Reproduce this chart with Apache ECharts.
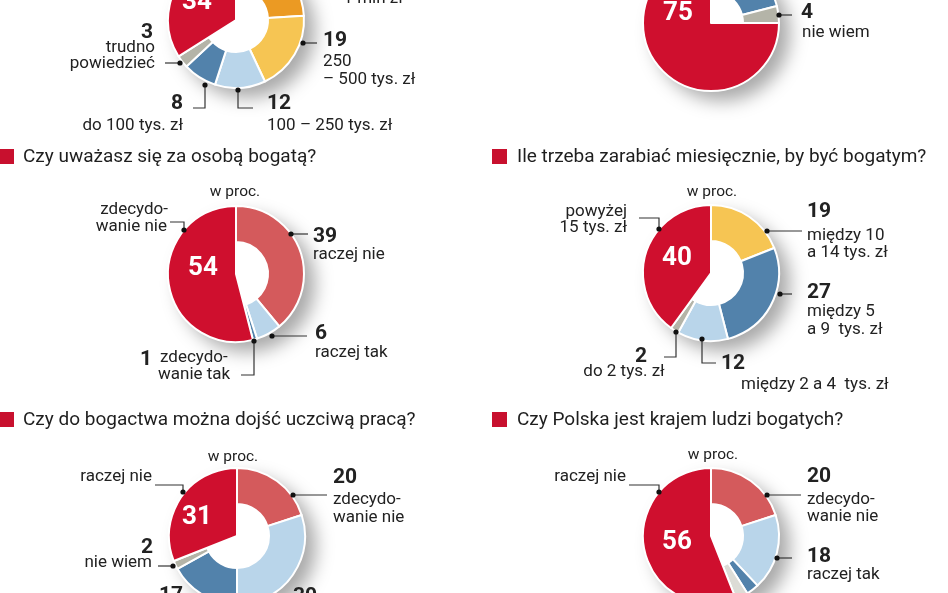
<!DOCTYPE html>
<html>
<head>
<meta charset="utf-8">
<script src="https://cdn.jsdelivr.net/npm/echarts@6/dist/echarts.min.js"></script>
<style>
html,body{margin:0;padding:0;background:#fff;}
#chart{width:948px;height:593px;}
</style>
</head>
<body>
<div id="chart"></div>
<script>
// ---------- DATA ----------
const wealthCategories = ['500 tys. – 1 mln zł', '250 – 500 tys. zł', '100 – 250 tys. zł', 'do 100 tys. zł', 'trudno powiedzieć', 'powyżej 1 mln zł'];
const wealthValues = [24, 19, 12, 8, 3, 34];

const topRightCategories = ['inne', 'nie wiem', 'tak'];
const topRightValues = [21, 4, 75];

const selfRichCategories = ['raczej nie', 'raczej tak', 'zdecydowanie tak', 'zdecydowanie nie'];
const selfRichValues = [39, 6, 1, 54];

const monthlyCategories = ['między 10 a 14 tys. zł', 'między 5 a 9 tys. zł', 'między 2 a 4 tys. zł', 'do 2 tys. zł', 'powyżej 15 tys. zł'];
const monthlyValues = [19, 27, 12, 2, 40];

const honestCategories = ['zdecydowanie nie', 'raczej tak', 'zdecydowanie tak', 'nie wiem', 'raczej nie'];
const honestValues = [20, 30, 17, 2, 31];

const polandCategories = ['zdecydowanie nie', 'raczej tak', 'zdecydowanie tak', 'nie wiem', 'raczej nie'];
const polandValues = [20, 18, 3, 3, 56];

const titles = [
  'Czy uważasz się za osobą bogatą?',
  'Ile trzeba zarabiać miesięcznie, by być bogatym?',
  'Czy do bogactwa można dojść uczciwą pracą?',
  'Czy Polska jest krajem ludzi bogatych?'
];
const unitLabel = 'w proc.';

// ---------- STYLE ----------
const C = {
  red: '#cf0f2e', salmon: '#d45a5c', light: '#b9d5ea', steel: '#5282ab',
  grey: '#b4b4a8', pale: '#dcdcd6', orange: '#eb9a23', yellow: '#f6c553'
};
const FONT = 'Roboto, "Liberation Sans", sans-serif';
const R_OUT = 68, R_IN = 32;
const LABEL_SIZE = 17;

const charts = [
  { center: [236, 20], cats: wealthCategories, vals: wealthValues, colors: [C.orange, C.yellow, C.light, C.steel, C.grey, C.red], solid: 5 },
  { center: [711, 23], cats: topRightCategories, vals: topRightValues, colors: [C.steel, C.grey, C.red], solid: 2 },
  { center: [236, 274], cats: selfRichCategories, vals: selfRichValues, colors: [C.salmon, C.light, C.steel, C.red], solid: 3 },
  { center: [711, 273], cats: monthlyCategories, vals: monthlyValues, colors: [C.yellow, C.steel, C.light, C.grey, C.red], solid: 4 },
  { center: [237, 536], cats: honestCategories, vals: honestValues, colors: [C.salmon, C.light, C.steel, C.grey, C.red], solid: 4 },
  { center: [711, 536], cats: polandCategories, vals: polandValues, colors: [C.salmon, C.light, C.steel, C.pale, C.red], solid: 4 }
];

const series = [];
charts.forEach(function (ch) {
  const common = {
    type: 'pie', center: ch.center, startAngle: 90, clockwise: true,
    silent: true, avoidLabelOverlap: false, label: { show: false }, labelLine: { show: false },
    emphasis: { disabled: true }, animation: false
  };
  const total = ch.vals.reduce(function (a, b) { return a + b; }, 0);
  // shadow disc
  series.push(Object.assign({}, common, {
    radius: [0, R_OUT], z: 1,
    data: [{ value: total, name: 'bg', itemStyle: { color: '#fff', shadowBlur: 18, shadowColor: 'rgba(0,0,0,0.34)', shadowOffsetX: 11, shadowOffsetY: 10 } }]
  }));
  // ring segments
  series.push(Object.assign({}, common, {
    radius: [R_IN, R_OUT], z: 2,
    data: ch.vals.map(function (v, i) {
      return { value: v, name: ch.cats[i], itemStyle: i === ch.solid
        ? { color: 'rgba(0,0,0,0)', borderWidth: 0 }
        : { color: ch.colors[i], borderColor: '#fff', borderWidth: 2 } };
    })
  }));
  // solid wedge
  series.push(Object.assign({}, common, {
    radius: [0, R_OUT], z: 3,
    data: ch.vals.map(function (v, i) {
      return { value: v, name: ch.cats[i], itemStyle: i === ch.solid
        ? { color: ch.colors[i], borderColor: '#fff', borderWidth: 2 }
        : { color: 'rgba(0,0,0,0)', borderWidth: 0 } };
    })
  }));
});

// ---------- ANNOTATIONS ----------
const g = [];
function txt(s, x, y, opt) {
  opt = opt || {};
  g.push({
    type: 'text', x: x, y: y, z: 100, silent: true,
    style: {
      text: s, fill: opt.fill || '#222',
      font: (opt.bold ? 'bold ' : '') + (opt.size || LABEL_SIZE) + 'px ' + FONT,
      textAlign: opt.align || 'left', align: opt.align || 'left',
      textVerticalAlign: 'middle', verticalAlign: 'middle'
    }
  });
}
function num(v, x, y, align) { txt(String(v), x, y, { bold: true, size: 21, align: align }); }
function inner(v, x, y) { txt(String(v), x, y, { bold: true, size: 26, fill: '#fff', align: 'center' }); }
function lead(points) {
  g.push({ type: 'polyline', z: 100, silent: true, shape: { points: points }, style: { stroke: '#333', lineWidth: 1.2, fill: null } });
  const d = points[points.length - 1];
  g.push({ type: 'circle', z: 101, silent: true, shape: { cx: d[0], cy: d[1], r: 2.6 }, style: { fill: '#111' } });
}
function title(s, x, y, sqx) {
  g.push({ type: 'rect', z: 100, silent: true, shape: { x: sqx, y: y - 8, width: 15, height: 15 }, style: { fill: '#c8102e' } });
  txt(s, x, y, { size: 19, fill: '#1e1e1e' });
}

// top-left (wealth)
inner(wealthValues[5], 197, 2);
txt('– 1 mln zł', 328, -1);
num(wealthValues[4], 153, 33, 'right');
txt('trudno', 155, 48, { align: 'right' });
txt('powiedzieć', 155, 64, { align: 'right' });
lead([[165, 63], [180, 63]]);
num(wealthValues[1], 323, 41);
txt('250', 323, 62);
txt('– 500 tys. zł', 323, 80);
lead([[317, 43], [303, 43]]);
num(wealthValues[3], 183, 104, 'right');
txt('do 100 tys. zł', 183, 126, { align: 'right' });
lead([[193, 108], [205, 108], [205, 85]]);
num(wealthValues[2], 267, 104);
txt('100 – 250 tys. zł', 267, 126);
lead([[253, 108], [238, 108], [238, 90]]);

// top-right
inner(topRightValues[2], 678, 13);
num(topRightValues[1], 801, 13);
txt('nie wiem', 802, 33);
lead([[792, 15], [779, 15]]);

// middle-left
title(titles[0], 23, 157, -1);
txt(unitLabel, 235, 192, { align: 'center', size: 15.5 });
txt('zdecydo-', 168, 210, { align: 'right' });
txt('wanie nie', 167, 227, { align: 'right' });
lead([[170, 222], [184, 222], [184, 230]]);
inner(selfRichValues[3], 203, 268);
num(selfRichValues[0], 313, 237);
txt('raczej nie', 313, 255);
lead([[308, 234], [291, 234]]);
num(selfRichValues[1], 315, 334);
txt('raczej tak', 315, 353);
lead([[307, 336], [272, 336]]);
num(selfRichValues[2], 146, 360, 'center');
txt('zdecydo-', 160, 358);
txt('wanie tak', 158, 375);
lead([[241, 375], [254, 375], [254, 341]]);

// middle-right
title(titles[1], 517, 157, 492);
txt(unitLabel, 712, 192, { align: 'center', size: 15.5 });
txt('powyżej', 627, 212, { align: 'right' });
txt('15 tys. zł', 627, 228, { align: 'right' });
lead([[639, 218], [659, 218], [659, 229]]);
inner(monthlyValues[4], 677, 258);
num(monthlyValues[0], 807, 212);
txt('między 10', 807, 236);
txt('a 14 tys. zł', 807, 253);
lead([[802, 231], [767, 231]]);
num(monthlyValues[1], 807, 293);
txt('między 5', 807, 312);
txt('a 9  tys. zł', 807, 330);
lead([[792, 294], [780, 294]]);
num(monthlyValues[3], 641, 357, 'center');
txt('do 2 tys. zł', 624, 372, { align: 'center' });
lead([[664, 357], [676, 357], [676, 332]]);
num(monthlyValues[2], 721, 364);
txt('między 2 a 4  tys. zł', 741, 385);
lead([[716, 363], [702, 363], [702, 339]]);

// bottom-left
title(titles[2], 23, 420, -1);
txt(unitLabel, 233, 457, { align: 'center', size: 15.5 });
txt('raczej nie', 152, 477, { align: 'right' });
lead([[155, 485], [183, 485], [183, 492]]);
inner(honestValues[4], 197, 517);
num(honestValues[0], 333, 478);
txt('zdecydo-', 333, 500);
txt('wanie nie', 333, 518);
lead([[327, 495], [293, 495]]);
num(honestValues[3], 153, 548, 'right');
txt('nie wiem', 152, 563, { align: 'right' });
lead([[158, 566], [173, 566]]);
num(honestValues[2], 183, 596, 'right');
num(honestValues[1], 293, 597);

// bottom-right
title(titles[3], 517, 420, 492);
txt(unitLabel, 713, 455, { align: 'center', size: 15.5 });
txt('raczej nie', 626, 477, { align: 'right' });
lead([[629, 485], [659, 485], [659, 492]]);
inner(polandValues[4], 677, 542);
num(polandValues[0], 807, 477);
txt('zdecydo-', 807, 500);
txt('wanie nie', 807, 517);
lead([[801, 495], [767, 495]]);
num(polandValues[1], 807, 557);
txt('raczej tak', 807, 575);
lead([[792, 558], [777, 558]]);

const chart = echarts.init(document.getElementById('chart'), null, { renderer: 'canvas' });
chart.setOption({
  backgroundColor: '#fff',
  animation: false,
  series: series,
  graphic: { elements: g }
});
</script>
</body>
</html>
